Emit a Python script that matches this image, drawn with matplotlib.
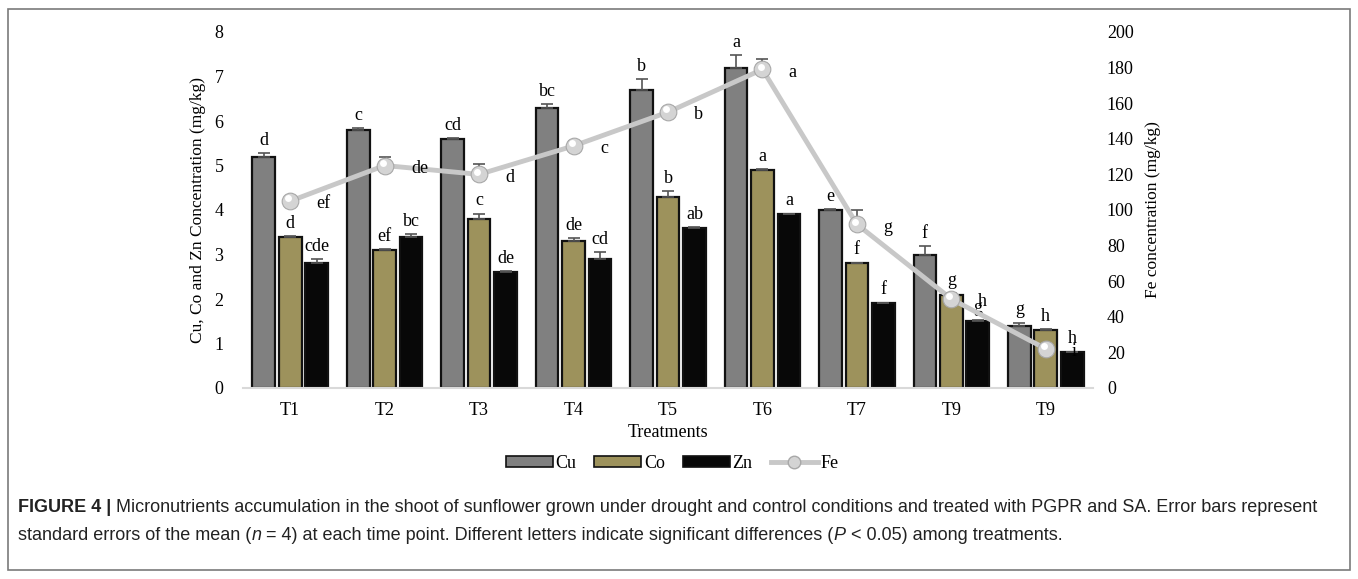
import matplotlib

matplotlib.use("Agg")
import matplotlib.pyplot as plt
import numpy as np
from matplotlib.patches import Patch, Rectangle
from matplotlib.lines import Line2D

plt.rcParams["font.family"] = ["Liberation Serif", "DejaVu Serif"]

treatments = ["T1", "T2", "T3", "T4", "T5", "T6", "T7", "T9", "T9"]

cu = [5.2, 5.8, 5.6, 6.3, 6.7, 7.2, 4.0, 3.0, 1.4]
co = [3.4, 3.1, 3.8, 3.3, 4.3, 4.9, 2.8, 2.1, 1.3]
zn = [2.8, 3.4, 2.6, 2.9, 3.6, 3.9, 1.9, 1.5, 0.8]
fe = [105, 125, 120, 136, 155, 179, 92, 50, 22]

cu_err = [0.08, 0.05, 0.02, 0.08, 0.25, 0.28, 0.02, 0.18, 0.07]
co_err = [0.02, 0.02, 0.12, 0.07, 0.13, 0.02, 0.02, 0.04, 0.03]
zn_err = [0.10, 0.05, 0.03, 0.16, 0.02, 0.02, 0.02, 0.03, 0.02]
fe_err = [0.5, 5, 6, 3, 2, 6, 8, 0.5, 0.5]

cu_letters = ["d", "c", "cd", "bc", "b", "a", "e", "f", "g"]
co_letters = ["d", "ef", "c", "de", "b", "a", "f", "g", "h"]
zn_letters = ["cde", "bc", "de", "cd", "ab", "a", "f", "g", "h"]
fe_letters = ["ef", "de", "d", "c", "b", "a", "g", "h", "i"]

W, H = 1358, 579
fig = plt.figure(figsize=(W / 100, H / 100), dpi=100)
ax = fig.add_axes([243 / W, 1 - 388 / H, (1093 - 243) / W, (388 - 32) / H])
ax2 = ax.twinx()

x = np.arange(len(treatments))
width = 0.24
step = 0.28
series = [
    (cu, cu_err, cu_letters, "#808080", -step),
    (co, co_err, co_letters, "#9d925c", 0.0),
    (zn, zn_err, zn_letters, "#080808", step),
]
for vals, errs, letters, color, off in series:
    ax.bar(x + off, vals, width, color=color, edgecolor="#111111",
           linewidth=1.6, zorder=2)
    ax.errorbar(x + off, vals, yerr=[np.zeros(len(vals)), errs], fmt="none",
                ecolor="#555555", elinewidth=1.2, capsize=4, capthick=1.2,
                zorder=3)
    for xi, v, e, lab in zip(x + off, vals, errs, letters):
        ax.annotate(lab, (xi, v + e), xytext=(0, 3), textcoords="offset points",
                    ha="center", va="bottom", fontsize=13, zorder=5)

ax.set_xlim(-0.5, len(treatments) - 0.5)
ax.set_ylim(0, 8)
ax.set_yticks(range(0, 9))
ax.set_xticks(x)
ax.set_xticklabels(treatments)
ax.tick_params(axis="both", length=0, labelsize=13, pad=10)
ax.tick_params(axis="y", pad=14)
ax.set_xlabel("Treatments", fontsize=13, labelpad=4)
ax.set_ylabel("Cu, Co and Zn Concentration (mg/kg)", fontsize=12.5, labelpad=6)

# Fe line on the secondary axis
ax2.errorbar(x, fe, yerr=[np.zeros(len(fe)), fe_err], fmt="none",
             ecolor="#555555", elinewidth=1.2, capsize=4, capthick=1.2, zorder=3)
ax2.plot(x, fe, color="#c8c8c8", linewidth=3.5, zorder=4)
ax2.plot(x, fe, linestyle="none", marker="o", markersize=12,
         markerfacecolor="#d4d4d4", markeredgecolor="#a8a8a8",
         markeredgewidth=0.8, zorder=5)
ax2.plot(x - 0.02, np.array(fe) + 1.5, linestyle="none", marker="o",
         markersize=5, markerfacecolor="white", markeredgewidth=0, zorder=6)
for xi, v, lab in zip(x, fe, fe_letters):
    ax2.annotate(lab, (xi, v), xytext=(19, -2), textcoords="offset points",
                 ha="left", va="center", fontsize=13, zorder=6)
ax2.set_ylim(0, 200)
ax2.set_yticks(range(0, 201, 20))
ax2.tick_params(axis="y", length=0, labelsize=13, pad=10)
ax2.set_ylabel("Fe concentration (mg/kg)", fontsize=12.5, labelpad=8)

for a in (ax, ax2):
    for side in ("top", "left", "right"):
        a.spines[side].set_visible(False)
ax.spines["bottom"].set_color("#d9d9d9")
ax.spines["bottom"].set_linewidth(1.5)
ax2.spines["bottom"].set_visible(False)

handles = [
    Patch(facecolor="#808080", edgecolor="#111111", linewidth=1.2),
    Patch(facecolor="#9d925c", edgecolor="#111111", linewidth=1.2),
    Patch(facecolor="#080808", edgecolor="#111111", linewidth=1.2),
    Line2D([], [], color="#c8c8c8", linewidth=3.5, marker="o", markersize=9,
           markerfacecolor="#d4d4d4", markeredgecolor="#a8a8a8"),
]
fig.legend(handles, ["Cu", "Co", "Zn", "Fe"], loc="center",
           bbox_to_anchor=(672 / W, 1 - 463 / H), ncol=4, frameon=False,
           fontsize=13, handlelength=2.6, handleheight=0.55, handletextpad=0.15,
           columnspacing=1.0)

# outer frame
fig.add_artist(Rectangle((8 / W, 9 / H), (1350 - 8) / W, (570 - 9) / H,
                         transform=fig.transFigure, fill=False,
                         edgecolor="#7a7a7a", linewidth=1.2))

# caption, drawn run by run so bold and italic parts line up
cap_font = ["Liberation Sans Narrow", "Liberation Sans", "DejaVu Sans"]
caption = [
    [("FIGURE 4 |", "bold", "normal"),
     (" Micronutrients accumulation in the shoot of sunflower grown under drought "
      "and control conditions and treated with PGPR and SA. Error bars represent",
      "normal", "normal")],
    [("standard errors of the mean (", "normal", "normal"), ("n", "normal", "italic"),
     (" = 4) at each time point. Different letters indicate significant differences (",
      "normal", "normal"),
     ("P", "normal", "italic"), (" < 0.05) among treatments.", "normal", "normal")],
]
renderer = fig.canvas.get_renderer()
for row, runs in enumerate(caption):
    xpos = 18
    ypos = 512 + row * 28
    for txt, weight, style in runs:
        t = fig.text(xpos / W, 1 - ypos / H, txt, fontsize=13, family=cap_font,
                     weight=weight, style=style, color="#222222",
                     ha="left", va="baseline")
        xpos += t.get_window_extent(renderer).width

fig.savefig("out.png", dpi=100)
